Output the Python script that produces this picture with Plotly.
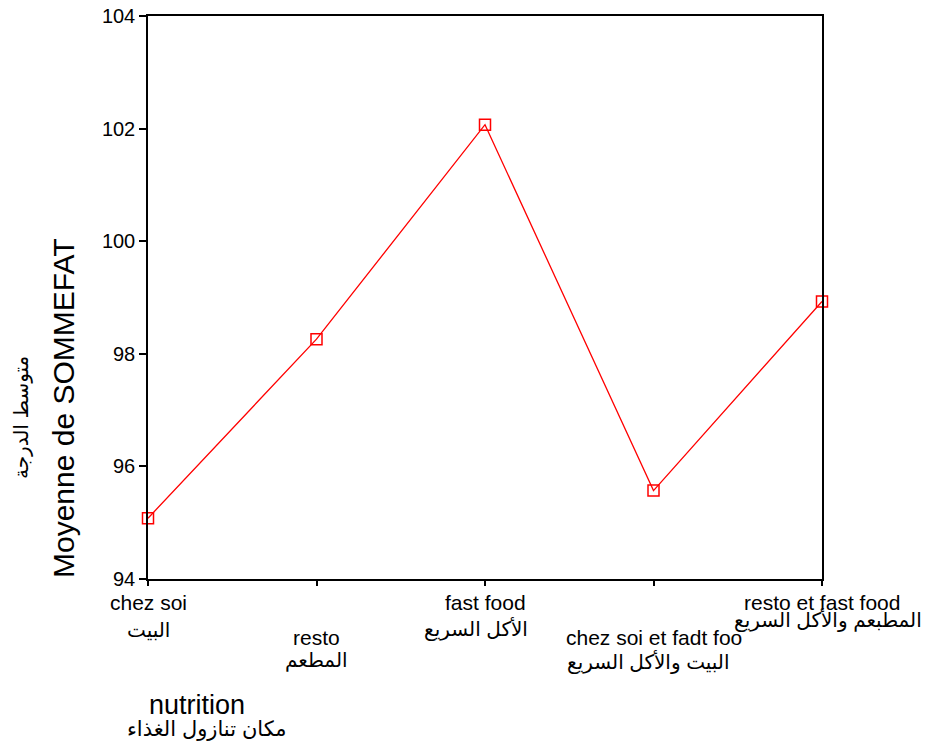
import plotly.graph_objects as go

categories = ["chez soi", "resto", "fast food", "chez soi et fadt foo", "resto et fast food"]
categories_ar = ["البيت", "المطعم", "الأكل السريع", "البيت والأكل السريع", "المطبعم والأكل السريع"]
mean_sommefat = [95.08, 98.26, 102.07, 95.57, 98.93]
y_ticks = [94, 96, 98, 100, 102, 104]

FONT = "Liberation Sans, Arial, DejaVu Sans, sans-serif"

# page-pixel geometry of the plot box (page body has an 8px margin)
PAGE_OFF = 8
PL, PT, PR, PB = 148, 16, 822, 579
W, H = 929, 749
L = PL - PAGE_OFF
T = PT - PAGE_OFF
pw, ph = PR - PL, PB - PT
R = W - L - pw
B = H - T - ph

def px_x(x):
    return (x - PL) / pw

def px_y(y):
    return (PB - y) / ph

fig = go.Figure()
fig.add_trace(go.Scatter(
    x=categories, y=mean_sommefat, mode="lines+markers",
    line=dict(color="#ff0000", width=1.3),
    marker=dict(symbol="square-open", size=11, color="#ff0000", line=dict(width=1.5, color="#ff0000")),
    cliponaxis=False, showlegend=False,
))

# staggered tick labels: (latin center y, arabic center y, arabic xshift) in page pixels
stagger = [(602, 630, 0), (637, 660, 0), (602, 629, -9), (637, 662, -5), (602, 620, 6)]
annotations = []
for cat, ar, (y1, y2, xs2) in zip(categories, categories_ar, stagger):
    annotations.append(dict(x=cat, xref="x", y=px_y(y1), yref="paper", text=cat, showarrow=False,
                            yanchor="middle", font=dict(family=FONT, size=21, color="black")))
    annotations.append(dict(x=cat, xref="x", y=px_y(y2), yref="paper", text=ar, showarrow=False,
                            yanchor="middle", xshift=xs2,
                            font=dict(family=FONT, size=20, color="black")))

annotations += [
    dict(x=px_x(197), xref="paper", y=px_y(705), yref="paper", text="nutrition", showarrow=False,
         xanchor="center", yanchor="middle", font=dict(family=FONT, size=27, color="black")),
    dict(x=px_x(207), xref="paper", y=px_y(729), yref="paper", text="مكان تنازول الغذاء", showarrow=False,
         xanchor="center", yanchor="middle", font=dict(family=FONT, size=21, color="black")),
    dict(x=px_x(63), xref="paper", y=px_y(408), yref="paper", text="Moyenne de SOMMEFAT", showarrow=False,
         textangle=-90, xanchor="center", yanchor="middle", font=dict(family=FONT, size=30, color="black")),
    dict(x=px_x(22), xref="paper", y=px_y(418), yref="paper", text="متوسط الدرجة", showarrow=False,
         textangle=-90, xanchor="center", yanchor="middle", font=dict(family=FONT, size=20, color="black")),
]

fig.update_layout(
    width=W, height=H,
    margin=dict(l=L, r=R, t=T, b=B, autoexpand=False),
    paper_bgcolor="white", plot_bgcolor="white",
    font=dict(family=FONT, color="black"),
    annotations=annotations,
    xaxis=dict(type="category", categoryorder="array", categoryarray=categories,
               range=[0, len(categories) - 1], showticklabels=False,
               ticks="outside", ticklen=5, tickwidth=1.5, tickcolor="black",
               showline=True, linecolor="black", linewidth=1.5, mirror=True,
               showgrid=False, zeroline=False, fixedrange=True, automargin=False),
    yaxis=dict(range=[94, 104], tickvals=y_ticks, ticktext=[str(v) for v in y_ticks],
               ticks="outside", ticklen=7, tickwidth=1.5, tickcolor="black",
               tickfont=dict(family=FONT, size=20, color="black"), ticklabeloverflow="allow",
               showline=True, linecolor="black", linewidth=1.5, mirror=True,
               showgrid=False, zeroline=False, fixedrange=True, automargin=False),
)

fig.write_html("out.html")
